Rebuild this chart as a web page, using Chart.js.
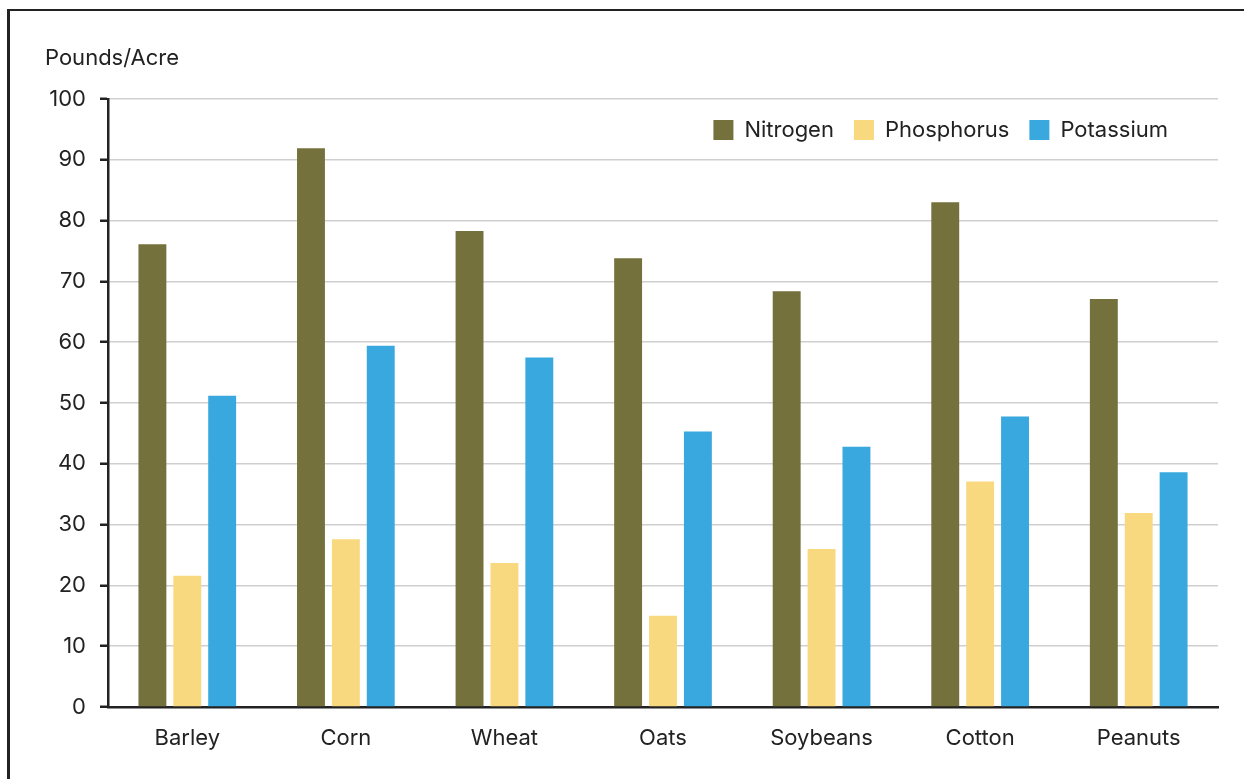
<!DOCTYPE html>
<html>
<head>
<meta charset="utf-8">
<script src="https://cdn.jsdelivr.net/npm/chart.js@4.4.1/dist/chart.umd.min.js"></script>
<style>
  html, body { margin: 0; padding: 0; background: #fff; }
  #frame { position: absolute; left: 7px; top: 9px; width: 1300px; height: 800px;
           border-top: 2px solid #222; border-left: 3px solid #222; }
  #wrap { position: absolute; left: 0; top: 0; width: 1244px; height: 779px; }
</style>
</head>
<body>
<div id="frame"></div>
<div id="wrap"><canvas id="chart1"></canvas></div>
<script>
var crops = ['Barley', 'Corn', 'Wheat', 'Oats', 'Soybeans', 'Cotton', 'Peanuts']

var nitrogen = [76.1, 91.9, 78.3, 73.8, 68.4, 83.0, 67.1]

var phosphorus = [21.6, 27.6, 23.7, 15.0, 26.0, 37.1, 31.9]

var potassium = [51.2, 59.4, 57.5, 45.3, 42.8, 47.8, 38.6]

var yTitle = 'Pounds/Acre'

var fontFamily = 'Inter, "Noto Sans", sans-serif'

// unit label above the y axis; legend moved down into the plot, in from the right
var extras = {
    id: 'extras',
    beforeDraw: function (chart) {
        var lg = chart.legend
        var area = chart.chartArea
        var h = lg.bottom - lg.top
        var w = lg.right - lg.left
        lg.top = area.top
        lg.bottom = area.top + h
        lg.right = area.right - 30
        lg.left = lg.right - w
    },
    afterDraw: function (chart) {
        var ctx = chart.ctx
        ctx.save()
        ctx.font = '22px ' + fontFamily
        ctx.fillStyle = '#222'
        ctx.textBaseline = 'middle'
        ctx.fillText(yTitle, chart.chartArea.left - 63, chart.chartArea.top - 41)
        ctx.restore()
    }
}

var chart1 = new Chart(
    document.getElementById('chart1'),
    {
        type: 'bar',
        data: {
            labels: crops,
            datasets: [
                {
                    label: 'Nitrogen',
                    backgroundColor: '#75713d',
                    data: nitrogen,
                },
                {
                    label: 'Phosphorus',
                    backgroundColor: '#f9d97f',
                    data: phosphorus,
                },
                {
                    label: 'Potassium',
                    backgroundColor: '#38a8df',
                    data: potassium,
                },
            ]
        },
        options: {
            responsive: true,
            maintainAspectRatio: false,
            animation: false,
            categoryPercentage: 0.66,
            barPercentage: 0.8,
            layout: {
                padding: { top: 47, right: 26, bottom: 0, left: 0 }
            },
            plugins: {
                legend: {
                    position: 'top',
                    align: 'end',
                    labels: {
                        boxWidth: 20,
                        boxHeight: 20,
                        padding: 20,
                        color: '#222',
                        font: { family: fontFamily, size: 22 }
                    }
                },
                title: { display: false },
                tooltip: { enabled: false }
            },
            scales: {
                x: {
                    grid: { display: false },
                    border: { display: true, color: '#222', width: 2.5 },
                    ticks: {
                        color: '#222',
                        padding: 10,
                        font: { family: fontFamily, size: 22 }
                    },
                    afterFit: function (scale) { scale.height = 72 }
                },
                y: {
                    min: 0,
                    max: 100,
                    ticks: {
                        stepSize: 10,
                        color: '#222',
                        padding: 14,
                        font: { family: fontFamily, size: 22 }
                    },
                    grid: {
                        color: '#cfcfcf',
                        lineWidth: 1.5,
                        tickColor: '#222',
                        tickWidth: 2.5,
                        tickLength: 8
                    },
                    border: { display: true, color: '#222', width: 2.5 },
                    afterFit: function (scale) { scale.width = 108 }
                }
            }
        },
        plugins: [extras]
    }
);
</script>
</body>
</html>
